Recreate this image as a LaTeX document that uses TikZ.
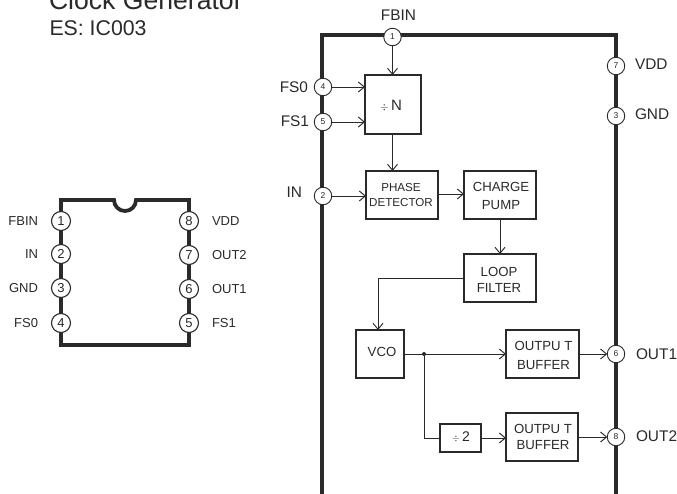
\documentclass[tikz,border=0pt]{standalone}
\usepackage{fontspec}
\setmainfont{Liberation Sans}
\usetikzlibrary{arrows.meta}
\definecolor{ink}{HTML}{2A2A2A}
\tikzset{
 x=1pt,y=-1pt,
 every node/.style={text=ink,inner sep=0pt,outer sep=0pt},
 outline/.style={draw=ink,line width=3.8pt,line join=miter},
 pinA/.style={circle,draw=ink,fill=white,line width=1.1pt,minimum size=19pt,font=\fontsize{13}{13}\selectfont},
 pinB/.style={circle,draw=ink,fill=white,line width=.9pt,minimum size=17.5pt,font=\fontsize{8.5}{8.5}\selectfont},
 lblA/.style={font=\fontsize{13}{13}\selectfont},
 lblB/.style={font=\fontsize{15.4}{15.4}\selectfont},
 block/.style={draw=ink,line width=1.6pt,align=center},
 wire/.style={draw=ink,line width=.95pt},
 arr/.style={wire,-{Straight Barb[length=6pt,width=10pt,line width=.95pt]}},
}
\newcommand{\blk}[5]{\node[block,minimum width=#3-#1,minimum height=#4-#2] (#5) at ({(#1+#3)/2},{(#2+#4)/2}) {};}
\begin{document}
\begin{tikzpicture}
\useasboundingbox (0,0) rectangle (677,494);
\fill[white] (0,0) rectangle (677,494);
% titles
\node[anchor=base west,font=\fontsize{26.6}{26.6}\selectfont] (title) at (49,10) {Clock Generator};
\node[anchor=base west,font=\fontsize{21.3}{21.3}\selectfont] (sub) at (49.5,36) {ES: IC003};
% left package
\draw[outline] (61,200) -- (114,200) arc[start angle=180,end angle=0,radius=11] -- (189,200) -- (189,345) -- (61,345) -- cycle;
\foreach \n/\yy/\t in {1/221/FBIN,2/254/IN,3/288/GND,4/323/FS0}{
  \node[pinA] (L\n) at (61,\yy) {\n};
  \node[lblA,anchor=east] (LT\n) at (38,\yy) {\t};
}
\foreach \n/\yy/\t in {8/221/VDD,7/255/OUT2,6/289/OUT1,5/323/FS1}{
  \node[pinA] (L\n) at (189,\yy) {\n};
  \node[lblA,anchor=west] (LT\n) at (212,\yy) {\t};
}
% right package
\draw[outline] (322,494) -- (322,35) -- (616,35) -- (616,494);
\node[pinB] (p1) at (392.5,37) {1};
\node[pinB] (p4) at (323,87) {4};
\node[pinB] (p5) at (323,122) {5};
\node[pinB] (p2) at (323,196) {2};
\node[pinB] (p7) at (616,66) {7};
\node[pinB] (p3) at (616,116) {3};
\node[pinB] (p6) at (616,354) {6};
\node[pinB] (p8) at (616,437) {8};
\node[lblB] (t1) at (398.5,15) {FBIN};
\node[lblB,anchor=east] (t4) at (308,87) {FS0};
\node[lblB,anchor=east] (t5) at (309,121) {FS1};
\node[lblB,anchor=east] (t2) at (302,192) {IN};
\node[lblB,anchor=west] (t7) at (635,64) {VDD};
\node[lblB,anchor=west] (t3) at (635,114) {GND};
\node[lblB,anchor=west] (t6) at (636,354) {OUT1};
\node[lblB,anchor=west] (t8) at (636,436) {OUT2};
% blocks
\blk{365}{75}{421}{134}{divn}
\node[font=\fontsize{15}{15}\selectfont] (divnt) at (391,106) {$\scriptstyle\div$\,N};
\blk{366}{171}{438}{219}{phase}
\node[align=center,font=\fontsize{11.6}{14.6}\selectfont] (phaset) at (401,195) {PHASE\\DETECTOR};
\blk{464}{171}{536}{219}{charge}
\node[align=center,font=\fontsize{13.2}{17.5}\selectfont] (charget) at (501,196) {CHARGE\\PUMP};
\blk{464}{254}{536}{302}{loop}
\node[align=center,font=\fontsize{13.2}{16}\selectfont] (loopt) at (499,280) {LOOP\\FILTER};
\blk{356}{330}{404}{378}{vco}
\node[font=\fontsize{13.2}{13.2}\selectfont] (vcot) at (382,352) {VCO};
\blk{506}{330}{579}{378}{bufa}
\node[align=center,font=\fontsize{13.2}{19}\selectfont] (bufat) at (543.5,355) {OUTPU T\\BUFFER};
\blk{440}{424}{481}{452}{divb}
\node[font=\fontsize{14}{14}\selectfont] (divbt) at (461,437) {$\scriptstyle\div$\,2};
\blk{506}{413}{578}{461}{bufb}
\node[align=center,font=\fontsize{13.2}{15.5}\selectfont] (bufbt) at (543,437) {OUTPU T\\BUFFER};
% connectors
\draw[arr] (p1) -- (p1 |- divn.north);
\draw[arr] (p4) -- (p4 -| divn.west);
\draw[arr] (p5) -- (p5 -| divn.west);
\draw[arr] (p2) -- (p2 -| phase.west);
\draw[arr] (divn.south -| p1) -- (p1 |- phase.north);
\draw[arr] (phase) ++(36.5,-1) coordinate (pe) -- (pe -| charge.west);
\draw[arr] (charge.south) -- (loop.north);
\coordinate (vtop) at ([xshift=-2pt]vco.north);
\draw[arr] (loop.west) -| (vtop);
\coordinate (tap) at (424,354);
\draw[arr] (vco.east) -- (bufa.west);
\fill[ink] (tap) circle (2pt);
\draw[wire] (tap) |- (divb.west);
\draw[arr] (divb.east) -- (divb.east -| bufb.west);
\draw[arr] (bufa.east) -- (p6);
\draw[arr] (bufb.east |- p8) -- (p8);
\end{tikzpicture}
\end{document}
